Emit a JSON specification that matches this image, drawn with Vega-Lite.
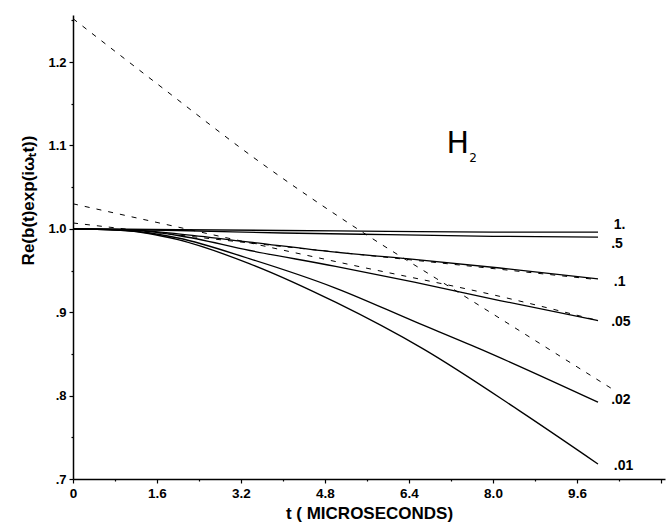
{
  "$schema": "https://vega.github.io/schema/vega-lite/v6.json",
  "width": 592,
  "height": 464,
  "autosize": {"type": "none"},
  "padding": {"left": 73, "top": 15, "right": 2, "bottom": 51},
  "background": "white",
  "config": {
    "view": {"stroke": null},
    "axis": {
      "domainColor": "black",
      "domainWidth": 1.5,
      "tickColor": "black",
      "tickWidth": 1.2,
      "grid": false,
      "labelColor": "black",
      "labelFont": "Liberation Sans",
      "labelFontWeight": "bold",
      "labelFontSize": 13,
      "titleColor": "black",
      "titleFont": "Liberation Sans",
      "titleFontWeight": "bold",
      "titleFontSize": 17
    }
  },
  "datasets": {
    "curves": [
      {"series": "1.", "kind": "solid", "t": 0, "v": 1.0},
      {"series": "1.", "kind": "solid", "t": 2, "v": 0.999},
      {"series": "1.", "kind": "solid", "t": 4, "v": 0.998},
      {"series": "1.", "kind": "solid", "t": 6, "v": 0.997},
      {"series": "1.", "kind": "solid", "t": 8, "v": 0.996},
      {"series": "1.", "kind": "solid", "t": 10, "v": 0.996},
      {"series": ".5", "kind": "solid", "t": 0, "v": 1.0},
      {"series": ".5", "kind": "solid", "t": 2, "v": 0.998},
      {"series": ".5", "kind": "solid", "t": 4, "v": 0.995},
      {"series": ".5", "kind": "solid", "t": 6, "v": 0.993},
      {"series": ".5", "kind": "solid", "t": 8, "v": 0.991},
      {"series": ".5", "kind": "solid", "t": 10, "v": 0.990},
      {"series": ".1", "kind": "solid", "t": 0, "v": 1.0},
      {"series": ".1", "kind": "solid", "t": 1, "v": 0.999},
      {"series": ".1", "kind": "solid", "t": 2, "v": 0.994},
      {"series": ".1", "kind": "solid", "t": 3.37, "v": 0.984},
      {"series": ".1", "kind": "solid", "t": 5, "v": 0.972},
      {"series": ".1", "kind": "solid", "t": 6.4, "v": 0.964},
      {"series": ".1", "kind": "solid", "t": 8.13, "v": 0.953},
      {"series": ".1", "kind": "solid", "t": 10, "v": 0.940},
      {"series": ".05", "kind": "solid", "t": 0, "v": 1.0},
      {"series": ".05", "kind": "solid", "t": 1, "v": 0.999},
      {"series": ".05", "kind": "solid", "t": 2, "v": 0.992},
      {"series": ".05", "kind": "solid", "t": 3.37, "v": 0.974},
      {"series": ".05", "kind": "solid", "t": 5, "v": 0.955},
      {"series": ".05", "kind": "solid", "t": 6.5, "v": 0.936},
      {"series": ".05", "kind": "solid", "t": 8.13, "v": 0.914},
      {"series": ".05", "kind": "solid", "t": 10, "v": 0.890},
      {"series": ".02", "kind": "solid", "t": 0, "v": 1.0},
      {"series": ".02", "kind": "solid", "t": 1, "v": 0.998},
      {"series": ".02", "kind": "solid", "t": 2, "v": 0.989},
      {"series": ".02", "kind": "solid", "t": 3.37, "v": 0.964},
      {"series": ".02", "kind": "solid", "t": 5, "v": 0.929},
      {"series": ".02", "kind": "solid", "t": 6.5, "v": 0.889},
      {"series": ".02", "kind": "solid", "t": 7.75, "v": 0.856},
      {"series": ".02", "kind": "solid", "t": 10, "v": 0.792},
      {"series": ".01", "kind": "solid", "t": 0, "v": 1.0},
      {"series": ".01", "kind": "solid", "t": 1, "v": 0.998},
      {"series": ".01", "kind": "solid", "t": 2, "v": 0.987},
      {"series": ".01", "kind": "solid", "t": 3.37, "v": 0.958},
      {"series": ".01", "kind": "solid", "t": 5, "v": 0.912},
      {"series": ".01", "kind": "solid", "t": 6.67, "v": 0.856},
      {"series": ".01", "kind": "solid", "t": 8.5, "v": 0.782},
      {"series": ".01", "kind": "solid", "t": 10, "v": 0.718},
      {"series": "A", "kind": "dashed", "t": 0, "v": 1.252},
      {"series": "A", "kind": "dashed", "t": 1.6, "v": 1.174},
      {"series": "A", "kind": "dashed", "t": 3.56, "v": 1.080},
      {"series": "A", "kind": "dashed", "t": 5.66, "v": 0.990},
      {"series": "A", "kind": "dashed", "t": 6.93, "v": 0.940},
      {"series": "A", "kind": "dashed", "t": 10.27, "v": 0.808},
      {"series": "B", "kind": "dashed", "t": 0, "v": 1.030},
      {"series": "B", "kind": "dashed", "t": 5.28, "v": 0.957},
      {"series": "B", "kind": "dashed", "t": 8.13, "v": 0.919},
      {"series": "B", "kind": "dashed", "t": 10, "v": 0.890},
      {"series": "C", "kind": "dashed", "t": 0, "v": 1.007},
      {"series": "C", "kind": "dashed", "t": 3.37, "v": 0.983},
      {"series": "C", "kind": "dashed", "t": 6.4, "v": 0.963},
      {"series": "C", "kind": "dashed", "t": 10, "v": 0.939}
    ],
    "labels": [
      {"label": "1.", "t": 10.3, "v": 1.004},
      {"label": ".5", "t": 10.25, "v": 0.982},
      {"label": ".1", "t": 10.3, "v": 0.936},
      {"label": ".05", "t": 10.25, "v": 0.888},
      {"label": ".02", "t": 10.25, "v": 0.795},
      {"label": ".01", "t": 10.3, "v": 0.716}
    ],
    "molecule": [
      {"text": "H", "t": 7.33, "v": 1.102},
      {"text": "2", "t": 7.62, "v": 1.085}
    ]
  },
  "layer": [
    {
      "data": {"name": "curves"},
      "transform": [{"filter": "datum.kind === 'solid'"}],
      "mark": {"type": "line", "color": "black", "strokeWidth": 1.3, "interpolate": "monotone"},
      "encoding": {
        "x": {
          "field": "t", "type": "quantitative",
          "scale": {"domain": [0, 11.276], "nice": false, "zero": false},
          "axis": {
            "title": "t ( MICROSECONDS)",
            "titleFontSize": 17,
            "titlePadding": 6,
            "values": [0, 0.8, 1.6, 2.4, 3.2, 4.0, 4.8, 5.6, 6.4, 7.2, 8.0, 8.8, 9.6, 10.4, 11.2],
            "labelExpr": "(datum.value > 10 || abs(datum.value/1.6 - round(datum.value/1.6)) > 0.01) ? '' : (datum.value == 0 ? '0' : format(datum.value, '.1f'))",
            "tickSize": {"condition": {"test": "abs(datum.value/1.6 - round(datum.value/1.6)) > 0.01", "value": 2}, "value": 4},
            "labelPadding": 3,
            "labelFontSize": 13.5,
            "labelFlush": false
          }
        },
        "y": {
          "field": "v", "type": "quantitative",
          "scale": {"domain": [0.7, 1.2564], "nice": false, "zero": false},
          "axis": {
            "title": "Re(b(t)exp(iωₜt))",
            "values": [0.7, 0.75, 0.8, 0.85, 0.9, 0.95, 1.0, 1.05, 1.1, 1.15, 1.2, 1.25],
            "labelExpr": "abs(datum.value*10 - round(datum.value*10)) > 0.01 ? '' : (datum.value >= 1 ? format(datum.value, '.1f') : replace(format(datum.value, '.1f'), '0.', '.'))",
            "tickSize": {"condition": {"test": "abs(datum.value*10 - round(datum.value*10)) > 0.01", "value": 2}, "value": 4},
            "labelPadding": 3,
            "labelFlush": false,
            "titleAngle": -90,
            "titleX": -45,
            "titleY": 185,
            "titleAlign": "center",
            "titleBaseline": "middle"
          }
        },
        "detail": {"field": "series"}
      }
    },
    {
      "data": {"name": "curves"},
      "transform": [{"filter": "datum.kind === 'dashed'"}],
      "mark": {"type": "line", "color": "black", "strokeWidth": 1, "strokeDash": [5, 7], "interpolate": "monotone"},
      "encoding": {
        "x": {"field": "t", "type": "quantitative"},
        "y": {"field": "v", "type": "quantitative"},
        "detail": {"field": "series"}
      }
    },
    {
      "data": {"name": "labels"},
      "mark": {"type": "text", "align": "left", "baseline": "middle", "font": "Liberation Sans", "fontWeight": "bold", "fontSize": 14, "color": "black"},
      "encoding": {
        "x": {"field": "t", "type": "quantitative"},
        "y": {"field": "v", "type": "quantitative"},
        "text": {"field": "label"}
      }
    },
    {
      "data": {"name": "molecule"},
      "mark": {"type": "text", "align": "center", "baseline": "middle", "font": "DejaVu Sans", "fontWeight": "normal", "color": "black"},
      "encoding": {
        "x": {"field": "t", "type": "quantitative"},
        "y": {"field": "v", "type": "quantitative"},
        "text": {"field": "text"},
        "size": {"field": "text", "type": "nominal", "scale": {"domain": ["H", "2"], "range": [30, 12]}, "legend": null}
      }
    }
  ]
}
